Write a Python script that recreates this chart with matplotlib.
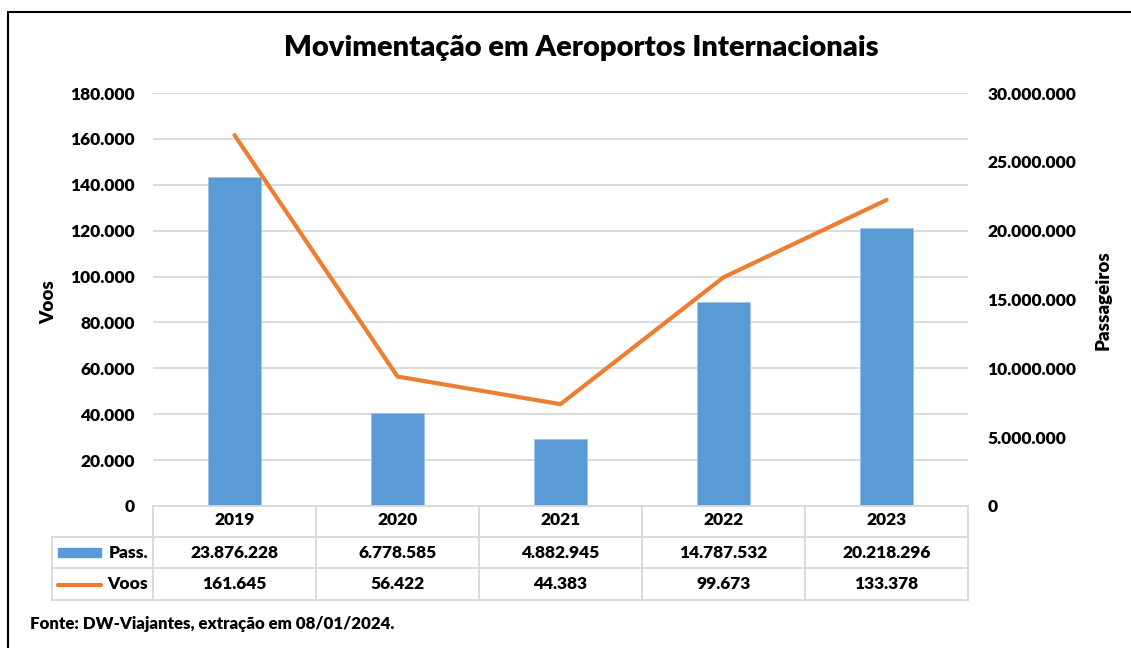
import numpy as np
import matplotlib.pyplot as plt
from matplotlib.lines import Line2D
from matplotlib.patches import Rectangle
from matplotlib.transforms import blended_transform_factory

plt.rcParams['font.family'] = ['Lato', 'DejaVu Sans']
plt.rcParams['font.weight'] = 'heavy'

anos = ["2019", "2020", "2021", "2022", "2023"]
passageiros = [23876228, 6778585, 4882945, 14787532, 20218296]
voos = [161645, 56422, 44383, 99673, 133378]

COR_PASS = '#5B9BD5'
COR_VOOS = '#ED7D31'
GRADE = '#D9D9D9'
W, H = 1131, 648
FS = 12.5


def fmt(v):
    return f"{v:,}".replace(",", ".")


def fx(px):
    return px / W


def fy(py):
    return 1 - py / H


fig = plt.figure(figsize=(W / 100, H / 100), dpi=100)
ax = fig.add_axes([fx(153), fy(506), fx(968) - fx(153), fy(93) - fy(506)])
ax2 = ax.twinx()
ax3 = ax.twinx()
x = np.arange(len(anos))

# grade e eixo esquerdo (voos)
ax.set_xlim(-0.5, len(anos) - 0.5)
ax.set_ylim(0, 180000)
yt = np.arange(0, 180001, 20000)
ax.set_yticks(yt)
ax.set_yticklabels([fmt(v) for v in yt], fontsize=FS)
ax.set_xticks([])
ax.tick_params(axis='y', length=0, pad=13)
ax.grid(axis='y', color=GRADE, lw=1.3)
ax.set_axisbelow(True)

# barras passageiros (eixo direito)
ax2.bar(x, passageiros, width=0.32, color=COR_PASS, edgecolor='#9DC3E6', linewidth=0.6)
ax2.set_ylim(0, 30000000)
yt2 = np.arange(0, 30000001, 5000000)
ax2.set_yticks(yt2)
ax2.set_yticklabels([fmt(v) for v in yt2], fontsize=FS)
ax2.tick_params(axis='y', length=0, pad=14)

# linha voos
ax3.plot(x, voos, color=COR_VOOS, lw=3, solid_capstyle='round')
ax3.set_ylim(0, 180000)
ax3.set_yticks([])

for a in (ax, ax2, ax3):
    for s in a.spines.values():
        s.set_visible(False)
    a.patch.set_visible(False)

fig.text(fx(581), fy(48), "Movimentação em Aeroportos Internacionais",
         ha='center', va='center', fontsize=21)
fig.text(fx(49), fy(302), "Voos", rotation=90, ha='center', va='center', fontsize=13.5)
fig.text(fx(1103), fy(300), "Passageiros", rotation=90, ha='center', va='center', fontsize=13.5)

# tabela de dados
tr = blended_transform_factory(ax.transData, fig.transFigure)
bordas = np.arange(len(anos) + 1) - 0.5
for b in bordas:
    fig.add_artist(Line2D([b, b], [fy(506), fy(600)], transform=tr, color=GRADE, lw=1.3))
fig.add_artist(Line2D([-0.5, bordas[-1]], [fy(506), fy(506)], transform=tr, color=GRADE, lw=1.3))
x_esq = ax.transData.inverted().transform((fig.transFigure.transform((fx(52), 0))[0], 0))[0]
for py in (537, 568, 600):
    fig.add_artist(Line2D([x_esq, bordas[-1]], [fy(py), fy(py)], transform=tr, color=GRADE, lw=1.3))
fig.add_artist(Line2D([fx(52), fx(52)], [fy(537), fy(600)], color=GRADE, lw=1.3))

for i, ano in enumerate(anos):
    fig.text(i, fy(520), ano, transform=tr, ha='center', va='center', fontsize=FS)
    fig.text(i, fy(553), fmt(passageiros[i]), transform=tr, ha='center', va='center', fontsize=FS)
    fig.text(i, fy(584), fmt(voos[i]), transform=tr, ha='center', va='center', fontsize=FS)

fig.add_artist(Rectangle((fx(58), fy(557)), fx(101) - fx(58), fy(548) - fy(557), color=COR_PASS))
fig.text(fx(148), fy(553), "Pass.", ha='right', va='center', fontsize=FS)
fig.add_artist(Line2D([fx(58), fx(101)], [fy(585), fy(585)], color=COR_VOOS, lw=3,
                      solid_capstyle='round'))
fig.text(fx(148), fy(584), "Voos", ha='right', va='center', fontsize=FS)

fig.text(fx(30), fy(624), "Fonte: DW-Viajantes, extração em 08/01/2024.",
         ha='left', va='center', fontsize=12.2)

# moldura
fig.add_artist(Rectangle((fx(8), -0.1), 1.2, fy(12) + 0.1, fill=False,
                         edgecolor='black', lw=1.5))

fig.savefig("out.png", dpi=100)
